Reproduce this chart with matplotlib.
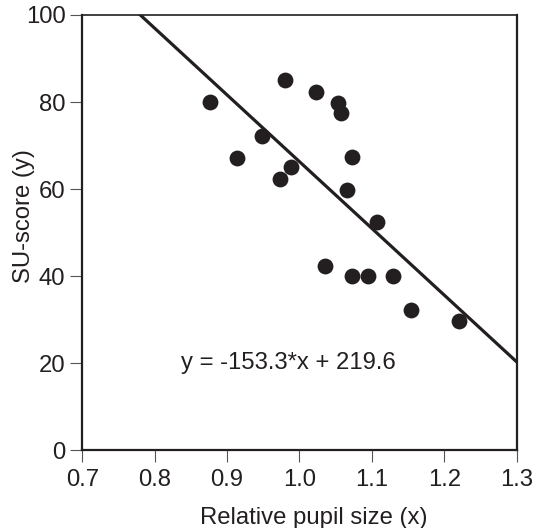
import matplotlib
matplotlib.use("Agg")
import matplotlib.pyplot as plt
import numpy as np

plt.rcParams['font.family'] = ['Liberation Sans', 'DejaVu Sans']

# relative pupil size vs SU-score
pupil = [0.876, 0.914, 0.948, 0.980, 0.973, 0.988, 1.023, 1.053, 1.058,
         1.072, 1.066, 1.107, 1.035, 1.073, 1.095, 1.129, 1.154, 1.220]
score = [80.0, 67.2, 72.2, 85.0, 62.3, 65.0, 82.4, 79.8, 77.4,
         67.4, 59.9, 52.4, 42.4, 40.0, 40.0, 40.0, 32.3, 29.8]

slope = -153.3
intercept = 219.6

x_ticks = [0.7, 0.8, 0.9, 1.0, 1.1, 1.2, 1.3]
y_ticks = [0, 20, 40, 60, 80, 100]

ink = "#231f20"
fs = 17.2

fig = plt.figure(figsize=(5.34, 5.28), dpi=100)
ax = fig.add_axes([0.1541, 0.1472, 0.8135, 0.8244])

xs = np.array([0.7, 1.3])
ax.plot(xs, slope * xs + intercept, color=ink, lw=2.3, zorder=2)
ax.scatter(pupil, score, s=130, color=ink, zorder=3, linewidths=0)

ax.text(0.984, 20, "y = -153.3*x + 219.6", ha="center", va="center",
        fontsize=fs, color=ink)

ax.set_xlim(0.7, 1.3)
ax.set_ylim(0, 100)
ax.set_xticks(x_ticks)
ax.set_xticklabels([f"{t:.1f}" for t in x_ticks])
ax.set_yticks(y_ticks)
ax.tick_params(direction="out", length=8.6, width=0.8, color="#555555",
               labelsize=fs, labelcolor=ink)
ax.tick_params(axis="x", pad=5)
ax.tick_params(axis="y", pad=3.5)

for side in ["left", "bottom", "right", "top"]:
    ax.spines[side].set_color(ink)
    ax.spines[side].set_linewidth(1.6)
ax.spines["top"].set_linewidth(1.2)

ax.set_xlabel("Relative pupil size (x)", fontsize=fs, color=ink, va="center")
ax.set_ylabel("SU-score (y)", fontsize=fs, color=ink, va="center")
ax.xaxis.set_label_coords(0.533, -0.155)
ax.yaxis.set_label_coords(-0.134, 0.538)

fig.savefig("out.png", dpi=100)
